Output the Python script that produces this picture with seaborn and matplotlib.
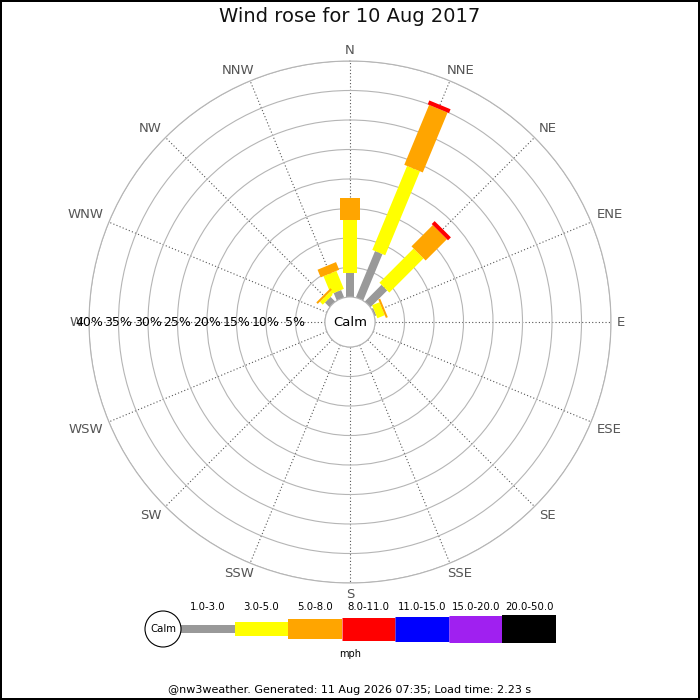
import numpy as np
import matplotlib
matplotlib.use("Agg")
import matplotlib.pyplot as plt
from matplotlib.patches import Circle
import seaborn as sns

# Datos del gráfico
directions = ['N', 'NNE', 'NE', 'ENE', 'E', 'ESE', 'SE', 'SSE',
              'S', 'SSW', 'SW', 'WSW', 'W', 'WNW', 'NW', 'NNW']
speed_bins = ['1.0-3.0', '3.0-5.0', '5.0-8.0', '8.0-11.0',
              '11.0-15.0', '15.0-20.0', '20.0-50.0']
bin_colors = ['#999999', '#ffff00', '#ffa500', '#ff0000',
              '#0000ff', '#a020f0', '#000000']

# porcentaje del día por dirección, una lista por banda de velocidad
pct_1_3 = [4.0, 8.5, 4.0, 0.3, 0, 0, 0, 0, 0, 0, 0, 0, 0, 0, 1.1, 1.35]
pct_3_5 = [9.0, 15.4, 8.2, 1.35, 0, 0, 0, 0, 0, 0, 0, 0, 0, 0, 0.7, 3.3]
pct_5_8 = [3.85, 11.0, 5.1, 0.35, 0, 0, 0, 0, 0, 0, 0, 0, 0, 0, 0.35, 1.4]
pct_8_11 = [0, 0.7, 0.7, 0, 0, 0, 0, 0, 0, 0, 0, 0, 0, 0, 0, 0]
pct_11_15 = [0, 0, 0, 0, 0, 0, 0, 0, 0, 0, 0, 0, 0, 0, 0, 0]
pct_15_20 = [0, 0, 0, 0, 0, 0, 0, 0, 0, 0, 0, 0, 0, 0, 0, 0]
pct_20_50 = [0, 0, 0, 0, 0, 0, 0, 0, 0, 0, 0, 0, 0, 0, 0, 0]

ring_pct = [5, 10, 15, 20, 25, 30, 35, 40]
ring_labels = ['5%', '10%', '15%', '20%', '25%', '30%', '35%', '40%']

title = 'Wind rose for 10 Aug 2017'
footer = '@nw3weather. Generated: 11 Aug 2026 07:35; Load time: 2.23 s'

# estilo: grosor de barra en píxeles por banda
bar_px = [8, 14, 20, 23, 25, 27, 28]

sns.set_theme(style='white')
plt.rcParams['font.family'] = ['DejaVu Sans']

fig = plt.figure(figsize=(7, 7), dpi=100)
fig.patch.set_facecolor('white')
fig.patch.set_edgecolor('black')
fig.patch.set_linewidth(1.5)

# Geometría en píxeles
cx, cy, r_out, r_calm = 350, 322, 261, 25
px_per_pct = (r_out - r_calm) / 40.0

ax = fig.add_axes([(cx - r_out) / 700, (700 - cy - r_out) / 700,
                   2 * r_out / 700, 2 * r_out / 700], projection='polar')
ax.set_theta_zero_location('N')
ax.set_theta_direction(-1)
ax.set_ylim(0, 40)
ax.set_rorigin(-r_calm / px_per_pct)

theta = np.deg2rad(np.arange(len(directions)) * 22.5)
ax.set_xticks(theta)
ax.set_xticklabels([])
ax.set_yticks(ring_pct)
ax.set_yticklabels([])
ax.xaxis.grid(True, color='#555555', ls=(0, (1, 2)), lw=0.8)
ax.yaxis.grid(True, color='#b5b5b5', ls='-', lw=0.8)
for name, sp in ax.spines.items():
    sp.set_color('#b5b5b5')
    sp.set_linewidth(0.8)

# Barras apiladas
series = [pct_1_3, pct_3_5, pct_5_8, pct_8_11, pct_11_15, pct_15_20, pct_20_50]
bottom = np.zeros(len(directions))
for i, vals in enumerate(series):
    vals = np.array(vals, dtype=float)
    mask = vals > 0
    if mask.any():
        ax.vlines(theta[mask], bottom[mask], bottom[mask] + vals[mask],
                  colors=bin_colors[i], linewidth=bar_px[i] * 0.72,
                  capstyle='butt', zorder=3)
    bottom += vals

# Círculo de calma
ax.add_patch(Circle((0.5, 0.5), r_calm / (2 * r_out), transform=ax.transAxes,
                    facecolor='white', edgecolor='#b5b5b5', lw=0.8, zorder=4,
                    clip_on=False))
ax.text(0.5, 0.5, 'Calm', transform=ax.transAxes, ha='center', va='center',
        fontsize=9.5, color='black', zorder=5)

# Etiquetas de los anillos (hacia el oeste)
for r, lab in zip(ring_pct, ring_labels):
    ax.text(np.deg2rad(270), r, lab, ha='center', va='center', fontsize=9,
            color='black', zorder=6)

# Etiquetas de dirección, pegadas al borde exterior
dir_texts = []
for th, d in zip(theta, directions):
    t = ax.annotate(d, xy=(th, 40), xytext=(0, 0), textcoords='offset points',
                    ha='center', va='center', fontsize=9.5, color='#555555',
                    annotation_clip=False)
    dir_texts.append(t)
fig.canvas.draw()
renderer = fig.canvas.get_renderer()
gap, h = 6, 10
for th, t in zip(theta, dir_texts):
    w = t.get_window_extent(renderer).width
    s, c = np.sin(th), np.cos(th)
    dx, dy = gap * s, gap * c
    if abs(s) > 0.5:
        dx += np.sign(s) * w / 2
    elif abs(s) > 0.1:
        dx += np.sign(s) * 0.3 * w
    if abs(c) > 0.1:
        dy += np.sign(c) * h / 2
    t.xyann = (dx * 0.72, dy * 0.72)

fig.text(0.5, 1 - 17 / 700, title, ha='center', va='center', fontsize=14,
         color='#111111')

# Leyenda
fig.patches.append(Circle((163 / 700, 1 - 629 / 700), 18 / 700,
                          transform=fig.transFigure, facecolor='white',
                          edgecolor='black', lw=0.8))
fig.text(163 / 700, 1 - 629 / 700, 'Calm', ha='center', va='center',
         fontsize=7.3, color='black')

lg = fig.add_axes([181 / 700, 40 / 700, 375 / 700, 60 / 700])
lg.set_xlim(0, len(speed_bins))
lg.set_ylim(-31, 29)
lg.axis('off')
for i, lab in enumerate(speed_bins):
    lg.hlines(0, i, i + 1, colors=bin_colors[i], linewidth=bar_px[i] * 0.72,
              capstyle='butt')
    lg.text(i + 0.5, 22, lab, ha='center', va='center', fontsize=7.3,
            color='black')

fig.text(0.5, 1 - 654 / 700, 'mph', ha='center', va='center', fontsize=7,
         color='black')
fig.text(0.5, 1 - 690 / 700, footer, ha='center', va='center', fontsize=8,
         color='black')

fig.savefig('out.png', dpi=100)
